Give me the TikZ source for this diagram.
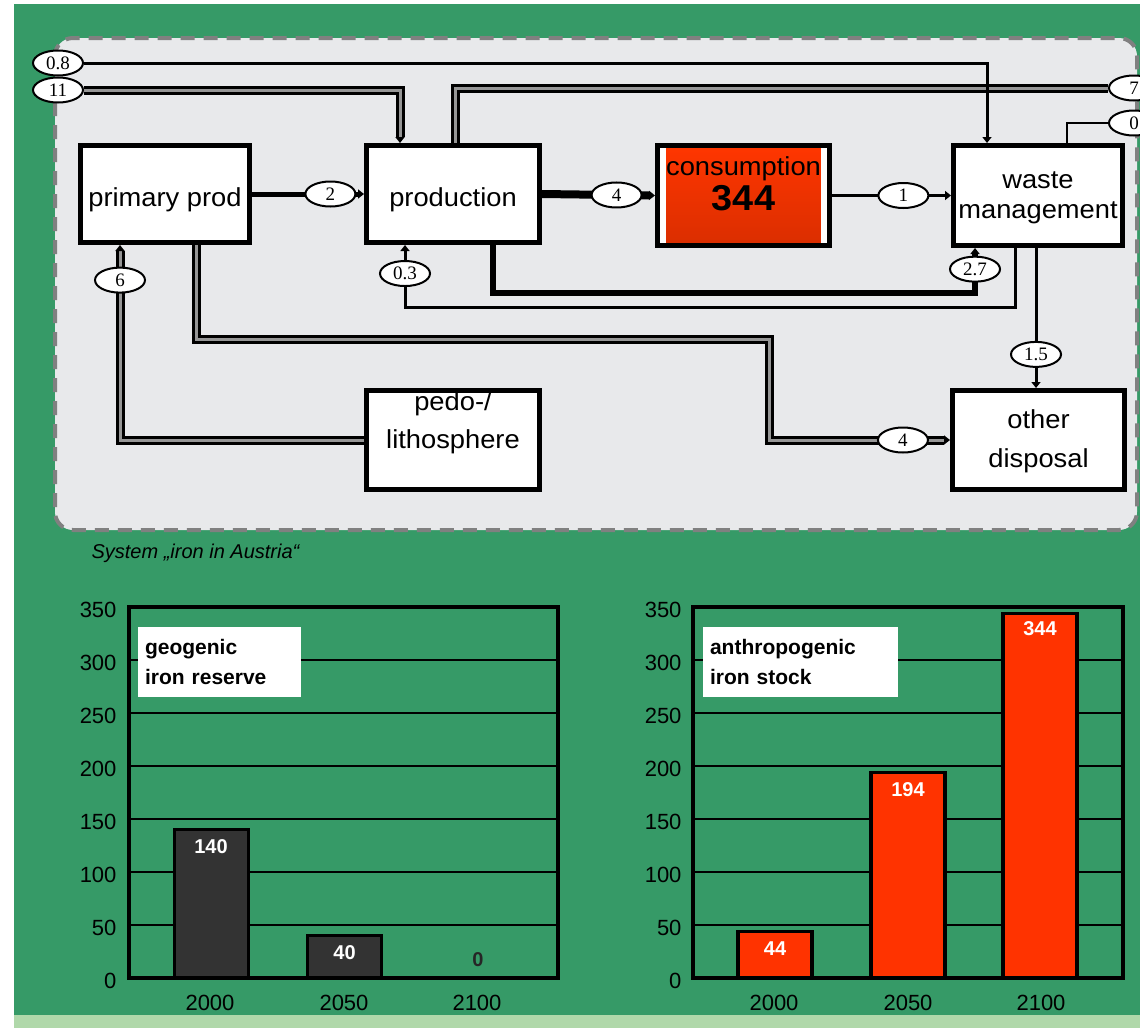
\documentclass[tikz,border=0pt]{standalone}
\usepackage{fontspec}
\setmainfont{Liberation Sans}
\newfontfamily\flowfont{Liberation Serif}
\usepackage{graphicx}
\usetikzlibrary{shapes.geometric,arrows.meta}

\definecolor{pagegreen}{RGB}{54,154,103}
\definecolor{stripgreen}{RGB}{176,216,170}
\definecolor{sysgray}{RGB}{232,233,235}
\definecolor{dashgray}{RGB}{128,128,128}
\definecolor{innergray}{RGB}{150,150,150}
\definecolor{consred}{RGB}{255,54,0}
\definecolor{consdark}{RGB}{218,46,0}
\definecolor{bardark}{RGB}{51,51,51}
\definecolor{barred}{RGB}{255,51,0}

% text of a process box, moved up or down by #1
\newcommand{\boxtxt}[2]{\raisebox{#1}[0pt][0pt]{\scalebox{1.05}[1]{\begin{tabular}[b]{@{}c@{}}#2\end{tabular}}}}

\tikzset{
  sysframe/.style={fill=sysgray, draw=dashgray, line width=4pt, dash pattern=on 14pt off 9pt, rounded corners=18pt},
  procbox/.style={draw, line width=5pt, fill=white, minimum width=173pt, minimum height=97pt, inner sep=0pt, font=\fontsize{26}{30}\selectfont},
  flowlab/.style={ellipse, draw, line width=2pt, fill=white, inner sep=0pt, minimum width=50pt, minimum height=25pt, font=\flowfont\fontsize{19}{19}\selectfont},
  dbl/.style={line width=3pt, double=innergray, double distance=3pt},
  gridline/.style={line width=2.5pt},
  chartframe/.style={line width=4pt},
  bar/.style={draw, line width=3.5pt},
  ticklab/.style={font=\fontsize{22}{22}\selectfont},
  vallab/.style={text=white, font=\bfseries\fontsize{20}{20}\selectfont},
  legbox/.style={fill=white, minimum width=163pt, minimum height=70pt, inner sep=7pt, text width=149pt, align=left, font=\bfseries\fontsize{21}{30}\selectfont}
}

\begin{document}
\begin{tikzpicture}[x=1pt,y=-1pt,>={Triangle[length=6pt,width=9pt]}]
    \useasboundingbox (0,0) rectangle (1140,1028);
    % background
    \fill[white] (0,0) rectangle (1140,1028);
    \fill[pagegreen] (14,4) rectangle (1140,1015);
    \fill[stripgreen] (14,1015) rectangle (1140,1028);

    % system boundary
    \draw[sysframe] (55,38) rectangle (1137,530);
    \node[anchor=base west, font=\itshape\fontsize{20}{20}\selectfont, text=black] (caption) at (88,558) {System „iron in Austria“};

    % processes
    \node[procbox, minimum width=169pt] (prim) at (165,194) {\boxtxt{-12pt}{primary prod}};
    \node[procbox] (prod) at (453,194) {\boxtxt{-12pt}{production}};
    \node[procbox, minimum width=172pt, minimum height=100pt,
          path picture={\shade[top color=consred, bottom color=consdark]
            ([xshift=9pt]path picture bounding box.south west) rectangle ([xshift=-9pt]path picture bounding box.north east);}]
          (cons) at (743.5,195.5) {\boxtxt{-14.5pt}{consumption\\{\bfseries\fontsize{36}{36}\selectfont 344}}};
    \node[procbox, minimum width=169pt, minimum height=100pt] (waste) at (1038,195.5) {\boxtxt{-23pt}{waste\\management}};
    \node[procbox, minimum height=99pt] (pedo) at (453,440) {\boxtxt{-8pt}{pedo-/\\[8pt]lithosphere}};
    \node[procbox, minimum width=172pt, minimum height=99pt] (other) at (1038.5,440) {\boxtxt{-27pt}{other\\[9pt]disposal}};

    % flows leaving the system
    \node[flowlab] (l7) at (1134,88) {7};
    \node[flowlab] (l0) at (1134,123) {0};
    \draw[dbl] ([xshift=2pt]prod.north) |- (l7.west);
    \draw[line width=2.5pt] ([xshift=29pt]waste.north) |- (l0.west);

    % flows entering the system
    \node[flowlab] (l08) at (58,63) {0.8};
    \node[flowlab] (l11) at (58,90) {11};
    \draw[line width=3pt,->] (l08.east) -| ([xshift=-51pt]waste.north);
    \draw[dbl,->] (l11.east) -| ([xshift=-53pt]prod.north);

    % flows between processes
    \draw[line width=5pt,->] (prim.east) -- node[flowlab, pos=0.7] (l2) {2} (prod.west);
    \draw[line width=8pt,->] (prod.east) -- node[flowlab, pos=0.66] (l4) {4} (cons.west);
    \draw[line width=2.5pt,->] (cons.east) -- node[flowlab, pos=0.6] (l1) {1} (waste.west);
    \draw[dbl,->] (pedo.west) -| node[flowlab, pos=0.91] (l6) {6} ([xshift=-45pt]prim.south);

    \coordinate (c03) at (405,307);
    \draw[line width=3pt,->] ([xshift=-23pt]waste.south) |- (c03) -- node[flowlab, pos=0.54] (l03) {0.3} ([xshift=-48pt]prod.south);

    \coordinate (c27) at (975,293);
    \draw[line width=6pt,->] ([xshift=40pt]prod.south) |- (c27) -- node[flowlab, pos=0.53] (l27) {2.7} ([xshift=-63pt]waste.south);

    \draw[line width=3pt,->] ([xshift=-2pt]waste.south) -- node[flowlab, pos=0.76] (l15) {1.5} ([xshift=-2pt]waste.south |- other.north);

    \coordinate (c4) at (769,339);
    \draw[dbl,->] ([xshift=31pt]prim.south) |- (c4) |- node[flowlab, pos=0.87] (l4b) {4} (other.west);

    % chart: geogenic iron reserve
    \foreach \v in {50,100,...,300}
        \draw[gridline] (129,{978-1.06*\v}) -- (558,{978-1.06*\v});
    \foreach \v in {0,50,...,350}
        \node[ticklab, anchor=east] (gy\v) at (120,{981-1.06*\v}) {\v};
    \draw[bar, fill=bardark] (174.5,978) rectangle (248.5,{978-1.06*140});
    \draw[bar, fill=bardark] (307.5,978) rectangle (381.5,{978-1.06*40});
    \node[vallab] (g140) at (211,{995-1.06*140}) {140};
    \node[vallab] (g40) at (344.5,{995-1.06*40}) {40};
    \node[vallab, text=black!85] (g0) at (478,960) {0};
    \draw[chartframe] (129,607) rectangle (558,978);
    \node[legbox] (geoleg) at (219.5,662) {geogenic\\iron reserve};
    \node[ticklab] (gx2000) at (210,1003) {2000};
    \node[ticklab] (gx2050) at (344,1003) {2050};
    \node[ticklab] (gx2100) at (477,1003) {2100};

    % chart: anthropogenic iron stock
    \foreach \v in {50,100,...,300}
        \draw[gridline] (693,{978-1.06*\v}) -- (1123,{978-1.06*\v});
    \foreach \v in {0,50,...,350}
        \node[ticklab, anchor=east] (ay\v) at (685,{981-1.06*\v}) {\v};
    \draw[bar, fill=barred] (738,978) rectangle (812,{978-1.06*44});
    \draw[bar, fill=barred] (871,978) rectangle (945,{978-1.06*194});
    \draw[bar, fill=barred] (1003,978) rectangle (1077,{978-1.06*344});
    \node[vallab] (a44) at (775,{995-1.06*44}) {44};
    \node[vallab] (a194) at (908,{995-1.06*194}) {194};
    \node[vallab] (a344) at (1040,{993-1.06*344}) {344};
    \draw[chartframe] (693,607) rectangle (1123,978);
    \node[legbox, minimum width=195pt, text width=181pt] (antleg) at (800.5,662) {anthropogenic\\iron stock};
    \node[ticklab] (ax2000) at (774,1003) {2000};
    \node[ticklab] (ax2050) at (908,1003) {2050};
    \node[ticklab] (ax2100) at (1041,1003) {2100};
\end{tikzpicture}
\end{document}
